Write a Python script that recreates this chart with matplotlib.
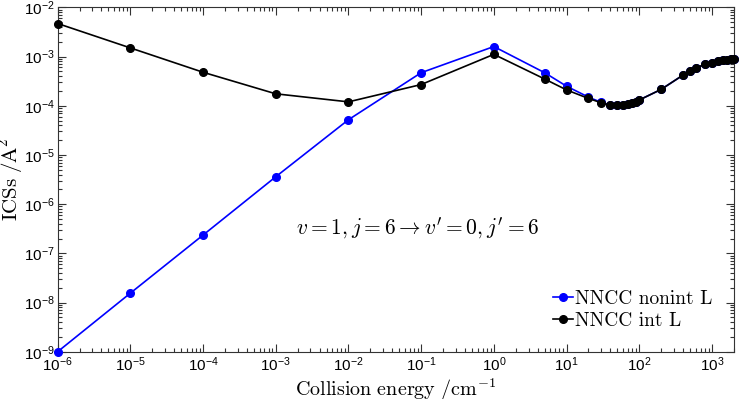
import numpy as np
import matplotlib
matplotlib.use('Agg')
import matplotlib.pyplot as plt
from matplotlib.ticker import LogLocator, FuncFormatter, NullFormatter

plt.rcParams['mathtext.fontset'] = 'cm'

# collision energies (cm^-1) and ICS values (A^2)
energy_nonint = [1e-6, 1e-5, 1e-4, 1e-3, 1e-2, 1e-1, 1, 5, 10, 20, 30, 40, 50,
                 60, 70, 80, 90, 100, 200, 400, 500, 600, 800, 1000, 1200,
                 1400, 1600, 1800, 2000]
ics_nonint = [1.0e-9, 1.55e-8, 2.35e-7, 3.6e-6, 5.2e-5, 4.7e-4, 1.6e-3, 4.7e-4,
              2.5e-4, 1.5e-4, 1.17e-4, 1.03e-4, 1.03e-4, 1.05e-4, 1.08e-4,
              1.12e-4, 1.17e-4, 1.31e-4, 2.15e-4, 4.2e-4, 5.1e-4, 5.9e-4,
              6.9e-4, 7.5e-4, 8.0e-4, 8.4e-4, 8.7e-4, 8.9e-4, 9.1e-4]

energy_int = [1e-6, 1e-5, 1e-4, 1e-3, 1e-2, 1e-1, 1, 5, 10, 20, 30, 40, 50,
              60, 70, 80, 90, 100, 200, 400, 500, 600, 800, 1000, 1200,
              1400, 1600, 1800, 2000]
ics_int = [4.7e-3, 1.5e-3, 4.8e-4, 1.75e-4, 1.2e-4, 2.7e-4, 1.11e-3, 3.5e-4,
           2.1e-4, 1.41e-4, 1.15e-4, 1.02e-4, 1.03e-4, 1.05e-4, 1.08e-4,
           1.12e-4, 1.17e-4, 1.31e-4, 2.15e-4, 4.2e-4, 5.1e-4, 5.9e-4,
           6.9e-4, 7.5e-4, 8.0e-4, 8.4e-4, 8.7e-4, 8.9e-4, 9.1e-4]

fig = plt.figure(figsize=(7.39, 3.99), dpi=100)
ax = fig.add_axes([0.078, 0.1185, 0.915, 0.863])

ax.plot(energy_nonint, ics_nonint, color='blue', marker='o', markersize=5.5,
        linewidth=1.2, label='NNCC nonint L', clip_on=False, zorder=3)
ax.plot(energy_int, ics_int, color='black', marker='o', markersize=5.5,
        linewidth=1.2, label='NNCC int L', clip_on=False, zorder=4)

ax.set_xscale('log')
ax.set_yscale('log')
ax.set_xlim(1e-6, 2000)
ax.set_ylim(1e-9, 1e-2)

ax.xaxis.set_major_locator(LogLocator(base=10, numticks=20))
ax.xaxis.set_minor_locator(LogLocator(base=10, subs=np.arange(2, 10), numticks=20))
ax.yaxis.set_major_locator(LogLocator(base=10, numticks=20))
ax.yaxis.set_minor_locator(LogLocator(base=10, subs=np.arange(2, 10), numticks=20))

fmt = FuncFormatter(lambda v, p: r'$\mathregular{10^{%d}}$' % round(np.log10(v)))
ax.xaxis.set_major_formatter(fmt)
ax.yaxis.set_major_formatter(fmt)
ax.xaxis.set_minor_formatter(NullFormatter())
ax.yaxis.set_minor_formatter(NullFormatter())

ax.tick_params(which='both', direction='in', top=True, right=True,
               labelsize=11, width=0.8, color='#333333')
ax.tick_params(which='major', length=5.5, pad=3)
ax.tick_params(axis='y', which='major', pad=2)
ax.tick_params(which='minor', length=3)
for lab in ax.get_xticklabels() + ax.get_yticklabels():
    lab.set_family('Liberation Sans')
for s in ax.spines.values():
    s.set_linewidth(0.8)
    s.set_color('#333333')

ax.set_xlabel(r'$\mathrm{Collision\ energy\ /cm^{-1}}$', fontsize=14.5, labelpad=1)
ax.set_ylabel(r'$\mathrm{ICSs\ /\AA^2}$', fontsize=15, labelpad=0)

ax.text(0.533, 0.359, r"$v=1, j=6 \rightarrow v'=0, j'=6$", transform=ax.transAxes,
        fontsize=15.5, ha='center', va='center')

ax.legend(loc='lower right', bbox_to_anchor=(0.985, 0.03), frameon=False,
          prop={'family': 'cmr10', 'size': 14}, handlelength=1.0,
          handletextpad=0.1, labelspacing=0.2, borderaxespad=0.2)

fig.savefig('out.png', dpi=100)
